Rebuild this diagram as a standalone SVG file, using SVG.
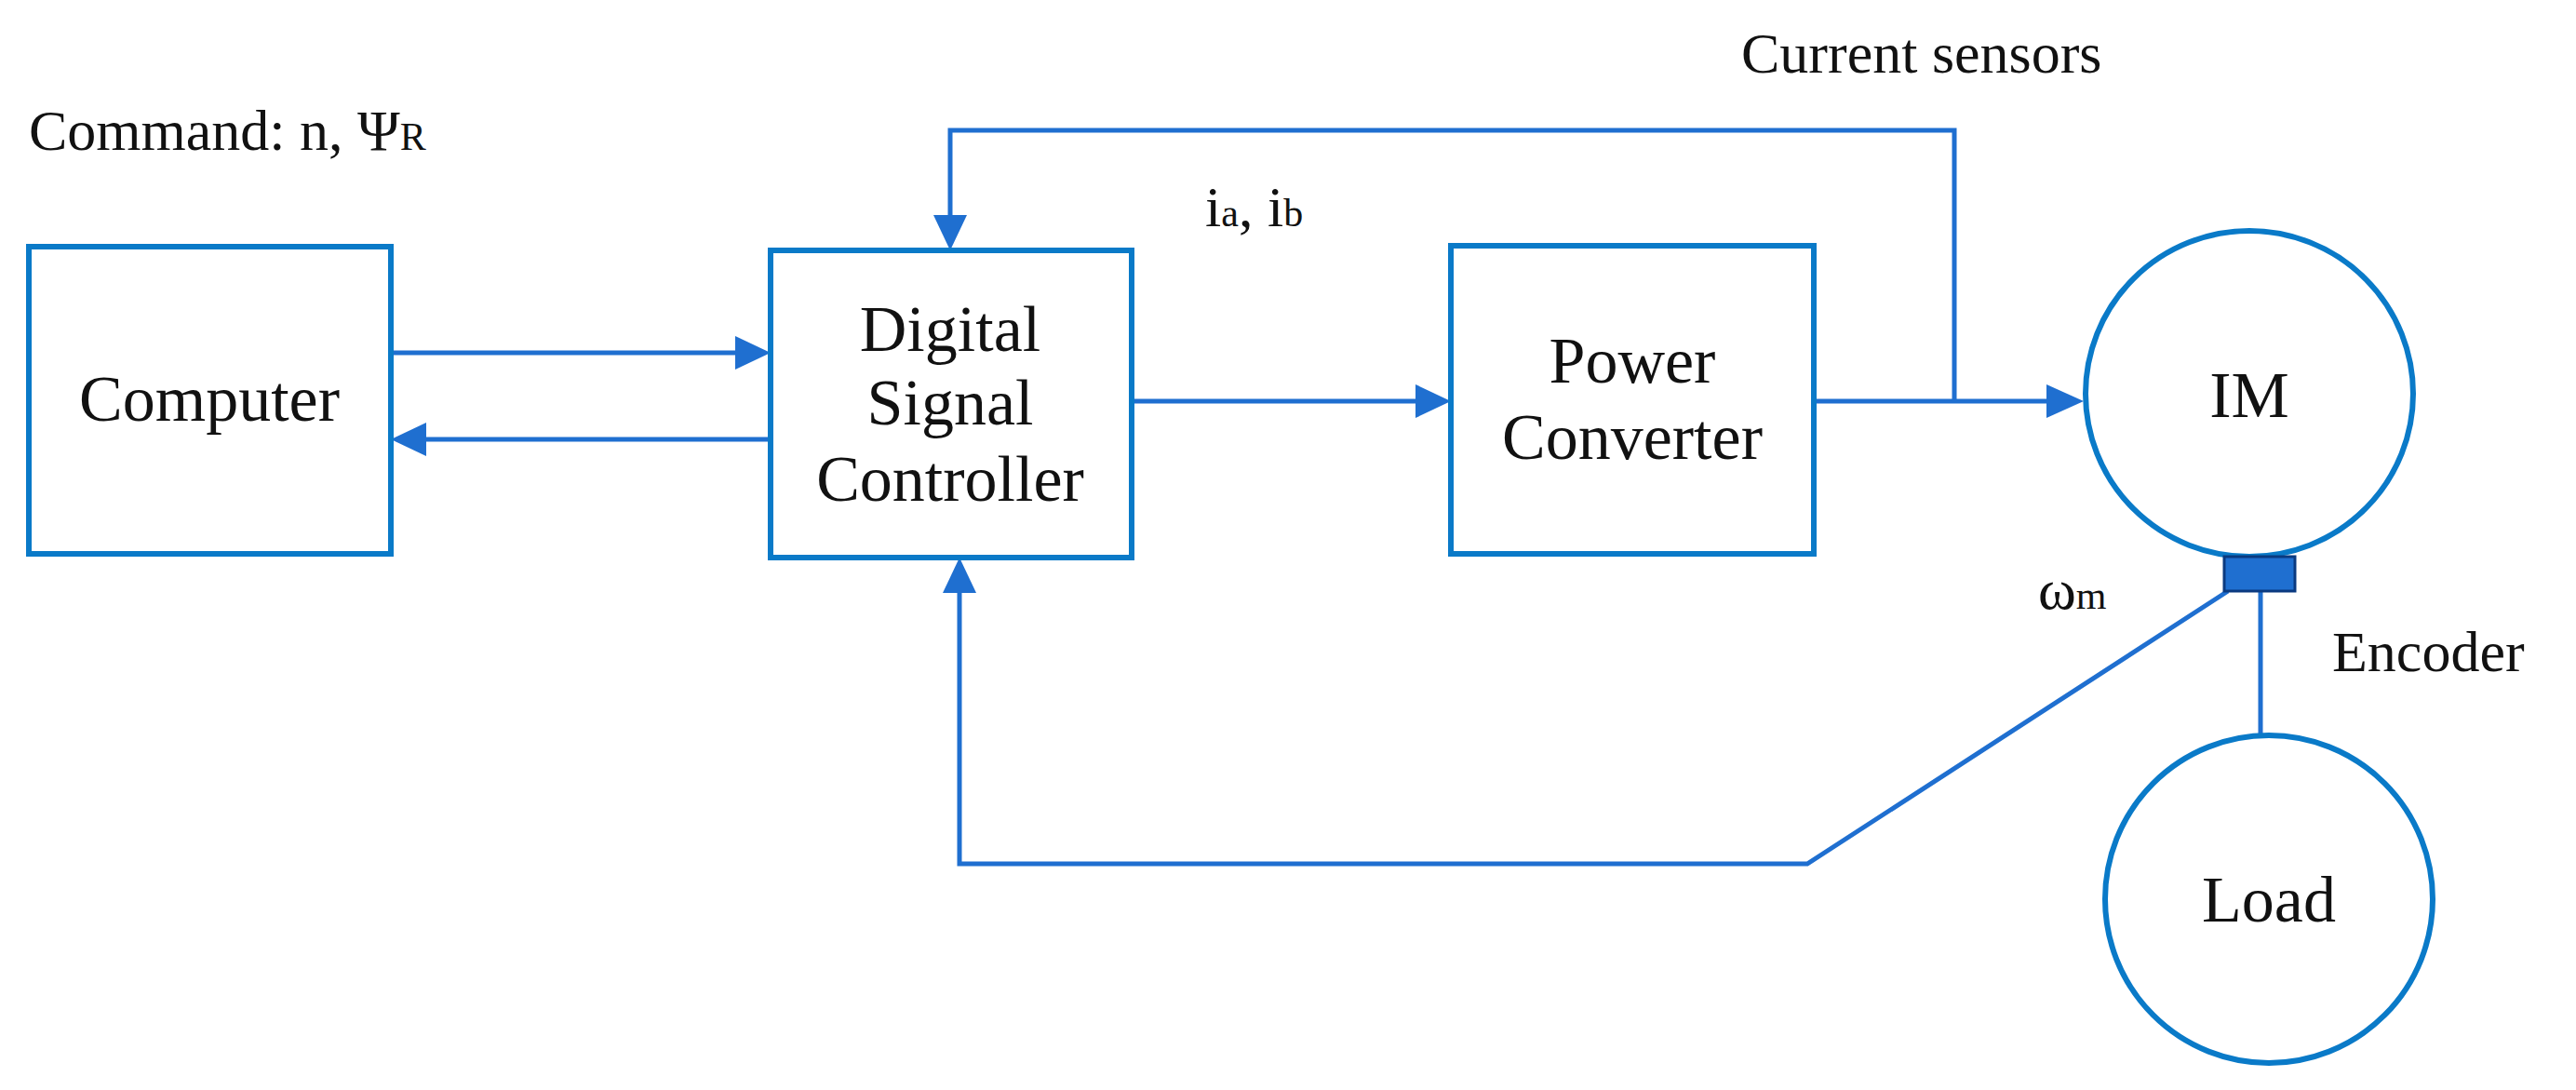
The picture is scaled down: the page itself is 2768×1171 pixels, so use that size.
<svg xmlns="http://www.w3.org/2000/svg" width="2768" height="1171" viewBox="0 0 2768 1171">
<style>
.box{fill:#fff;stroke:#0A7AC8;stroke-width:6}
.ln{fill:none;stroke:#1F6FD0;stroke-width:5}
.t{font-family:"Liberation Serif",serif;font-size:70px;fill:#111;text-anchor:middle}
.l{font-family:"Liberation Serif",serif;font-size:62px;fill:#111}
.s{font-size:42px}
</style>
<defs><marker id="a" viewBox="0 0 10 10" refX="10" refY="5" markerWidth="7" markerHeight="7" markerUnits="userSpaceOnUse" orient="auto" style="overflow:visible"><path d="M0,0L10,5L0,10z" fill="#1F6FD0" transform="scale(4.2)" /></marker></defs>
<rect width="2768" height="1171" fill="#fff"/>
<g id="connectors">
<path class="ln" d="M420,379H790"/>
<path d="M828,379l-38,-18v36z" fill="#1F6FD0"/>
<path class="ln" d="M828,472H458"/>
<path d="M420,472l38,-18v36z" fill="#1F6FD0"/>
<path class="ln" d="M1216,431H1521"/>
<path d="M1559,431l-38,-18v36z" fill="#1F6FD0"/>
<path class="ln" d="M1949,431H2199"/>
<path d="M2239,431l-40,-18v36z" fill="#1F6FD0"/>
<path class="ln" d="M2100,431V140H1021V231"/>
<path d="M1021,269l-18,-38h36z" fill="#1F6FD0"/>
<path class="ln" d="M2394,635L1942,928H1031V637"/>
<path d="M1031,599l-18,38h36z" fill="#1F6FD0"/>
<path class="ln" d="M2429,635V790"/>
</g>
<g id="computer"><rect class="box" x="31" y="265" width="389" height="330"/><text class="t" x="225" y="452">Computer</text></g>
<g id="dsc"><rect class="box" x="828" y="269" width="388" height="330"/><text class="t" x="1021" y="377">Digital</text><text class="t" x="1021" y="456">Signal</text><text class="t" x="1021" y="538">Controller</text></g>
<g id="power"><rect class="box" x="1559" y="264" width="390" height="331"/><text class="t" x="1754" y="411">Power</text><text class="t" x="1754" y="493">Converter</text></g>
<g id="im"><ellipse class="box" cx="2417" cy="423" rx="176" ry="175"/><text class="t" x="2417" y="448">IM</text></g>
<g id="encoder"><rect x="2390" y="598" width="76" height="37" fill="#1F6FD0" stroke="#0A3A80" stroke-width="3"/></g>
<g id="load"><ellipse class="box" cx="2438" cy="966" rx="176" ry="176"/><text class="t" x="2438" y="990">Load</text></g>
<text class="l" x="31" y="161">Command: n, Ψ<tspan class="s">R</tspan></text>
<text class="l" x="1295" y="243">i<tspan class="s">a</tspan>, i<tspan class="s">b</tspan></text>
<text class="l" x="1871" y="78">Current sensors</text>
<text class="l" x="2190" y="654">ω<tspan class="s">m</tspan></text>
<text class="l" x="2506" y="721">Encoder</text>
</svg>
